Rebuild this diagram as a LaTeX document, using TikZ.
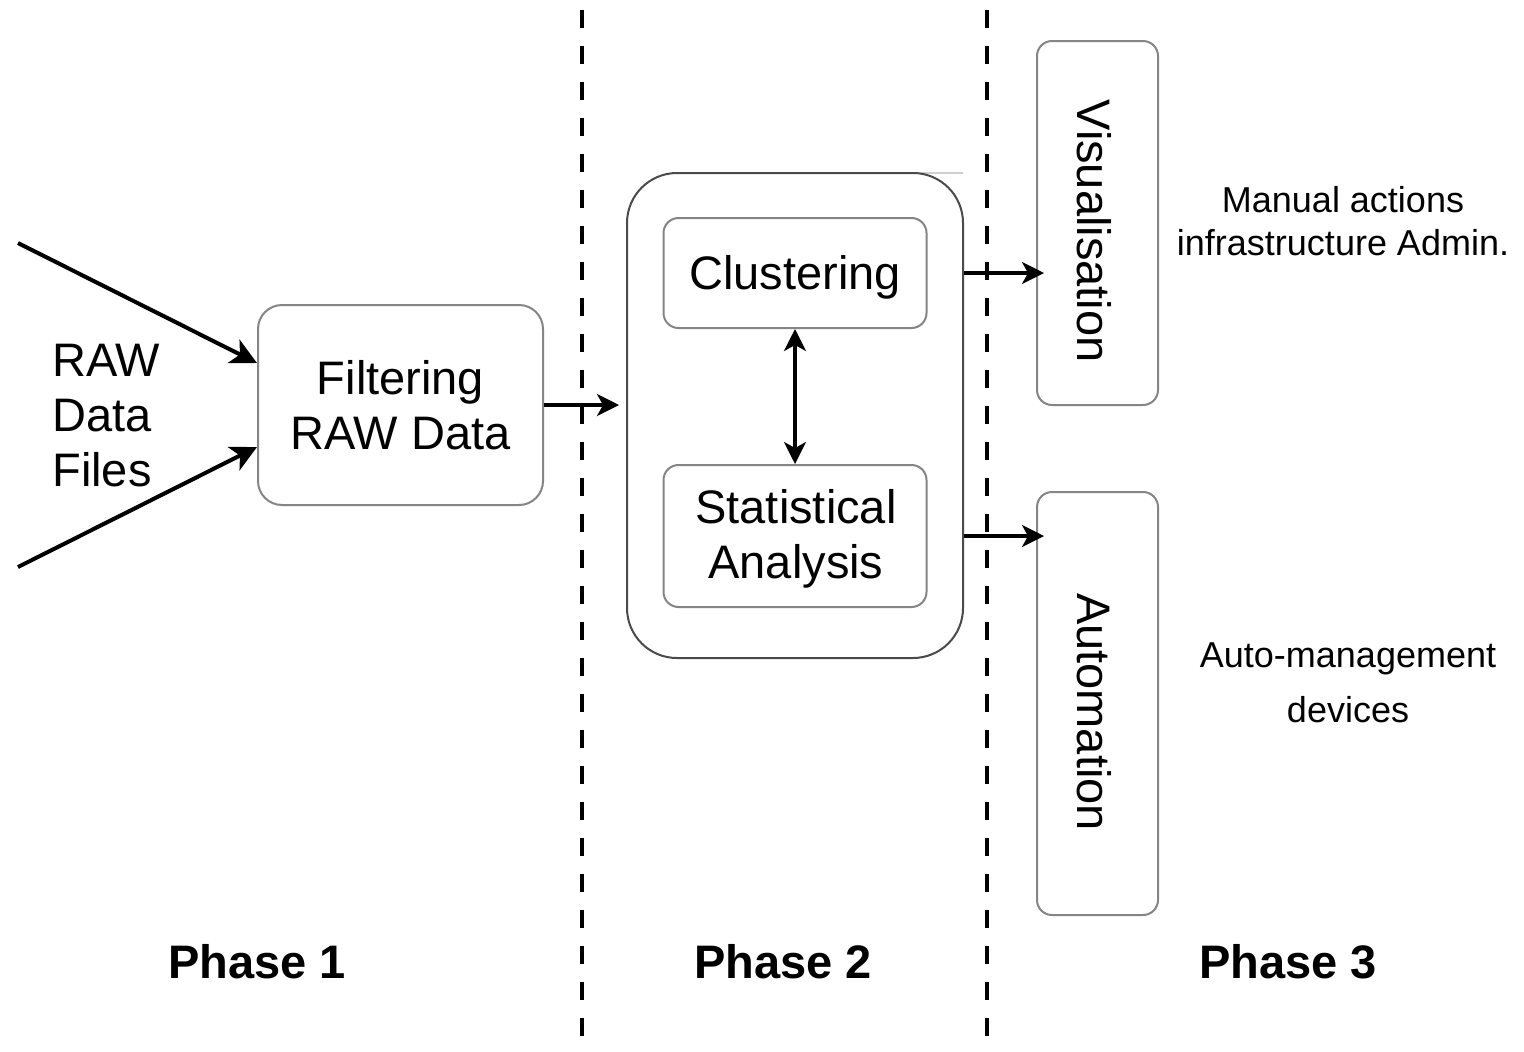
\documentclass[tikz,border=0pt]{standalone}
\usepackage{fontspec}
\setmainfont{Liberation Sans}
\usetikzlibrary{arrows.meta,calc}

\definecolor{boxline}{HTML}{858585}
\definecolor{outerline}{HTML}{4A4A4A}
\definecolor{faintline}{HTML}{D0D0D0}

\tikzset{
  box/.style={draw=boxline, line width=1pt, rounded corners=#1, fill=white},
  box/.default=12pt,
  maintext/.style={font=\fontsize{23.5pt}{27.5pt}\selectfont, align=center},
  notetext/.style={font=\fontsize{18pt}{21.5pt}\selectfont, align=center},
  phasetext/.style={font=\fontsize{23.5pt}{27.5pt}\selectfont\bfseries},
  tip/.tip={Stealth[length=11pt,width=11pt,inset=3pt]},
  flow/.style={line width=1.6pt, -tip},
  biflow/.style={line width=1.6pt, tip-tip},
  phaseline/.style={line width=1.8pt, dash pattern=on 9pt off 9pt}
}

\begin{document}
\begin{tikzpicture}[x=0.5pt,y=-0.5pt]
  \useasboundingbox[fill=white] (0,0) rectangle (1524,1051);

  % phase separators
  \coordinate (sepAtop) at (582,10);
  \coordinate (sepAbot) at (582,1051);
  \coordinate (sepBtop) at (987,10);
  \coordinate (sepBbot) at (987,1051);
  \draw[phaseline] (sepAtop) -- (sepAbot);
  \draw[phaseline] (sepBtop) -- (sepBbot);

  % phase 1
  \node[box=12pt, maintext, minimum width=142.5pt, minimum height=100pt] (filt) at (400.5,405) {Filtering\\RAW Data};
  \node[maintext, align=left, anchor=west, inner sep=0pt] (raw) at (52,416) {RAW\\Data\\Files};
  \coordinate (srcA) at (18,243);
  \coordinate (srcB) at (18,567);
  \draw[flow, line width=2pt, -{Stealth[length=13pt,width=13pt,inset=3.5pt]}] (srcA) -- ([yshift=21pt]filt.west);
  \draw[flow, line width=2pt, -{Stealth[length=13pt,width=13pt,inset=3.5pt]}] (srcB) -- ([yshift=-21pt]filt.west);

  % phase 2
  \draw[faintline, line width=1pt] (673,173) -- (963,173);
  \node[draw=outerline, line width=1pt, rounded corners=25pt, minimum width=168pt, minimum height=242.5pt] (outer) at (795,415.5) {};
  \node[box=7.5pt, minimum width=131.5pt, minimum height=55pt] (clus) at (795,273) {};
  \node[maintext] (clustext) at (795,277) {Clustering};
  \node[box=7.5pt, minimum width=131.5pt, minimum height=71pt] (stat) at (795,536) {};
  \node[maintext] (stattext) at (796,539) {Statistical\\Analysis};
  \draw[biflow] (clus.south) -- (stat.north);
  \draw[flow] (filt.east) -- ([xshift=-3.5pt]outer.west |- filt.east);

  % phase 3
  \node[box=7.5pt, minimum width=60.5pt, minimum height=182pt] (vis) at (1097.5,223) {};
  \node[maintext, rotate=-90] (vislabel) at (1094,231) {Visualisation};
  \node[box=7.5pt, minimum width=60.5pt, minimum height=211.5pt] (auto) at (1097.5,703.5) {};
  \node[maintext, rotate=-90] (autolabel) at (1094,712) {Automation};
  \draw[flow] (outer.east |- clus.center) -- ([xshift=4pt]vis.west |- clus.center);
  \draw[flow] (outer.east |- stat.center) -- ([xshift=4pt]auto.west |- stat.center);

  \node[notetext] (manual) at (1343,221) {Manual actions\\infrastructure Admin.};
  \node[notetext, font=\fontsize{18pt}{27.5pt}\selectfont] (automgmt) at (1348,683) {Auto-management\\devices};

  % phase captions
  \node[phasetext] (ph1) at (257,962) {Phase 1};
  \node[phasetext] (ph2) at (783,962) {Phase 2};
  \node[phasetext] (ph3) at (1288,962) {Phase 3};
\end{tikzpicture}
\end{document}
